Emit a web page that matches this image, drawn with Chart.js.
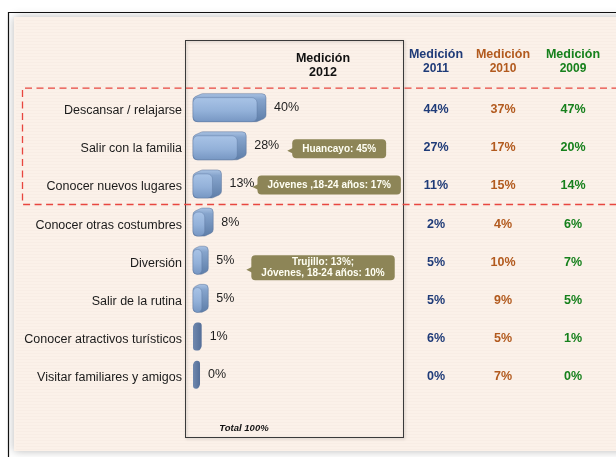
<!DOCTYPE html>
<html lang="es">
<head>
<meta charset="UTF-8">
<title>Motivos de viaje - Medición 2012</title>
<script src="https://cdn.jsdelivr.net/npm/chart.js"></script>
<style>
  html, body { margin: 0; padding: 0; background: #fff; }
  #wrap { width: 616px; height: 457px; }
</style>
</head>
<body>
<div id="wrap"><canvas id="chart" width="616" height="457"></canvas></div>
<script>
// datos
const motivos = [
  "Descansar / relajarse",
  "Salir con la familia",
  "Conocer nuevos lugares",
  "Conocer otras costumbres",
  "Diversión",
  "Salir de la rutina",
  "Conocer atractivos turísticos",
  "Visitar familiares y amigos"
];
const medicion2012 = [40, 28, 13, 8, 5, 5, 1, 0];
const medicion2011 = [44, 27, 11, 2, 5, 5, 6, 0];
const medicion2010 = [37, 17, 15, 4, 10, 9, 5, 7];
const medicion2009 = [47, 20, 14, 6, 7, 5, 1, 0];
const anios = ["2011", "2010", "2009"];
const notas = [
  { fila: 1, texto: ["Huancayo: 45%"] },
  { fila: 2, texto: ["Jóvenes ,18-24 años: 17%"] },
  { fila: 4, texto: ["Trujillo: 13%;", "Jóvenes, 18-24 años: 10%"] }
];
const total = "Total 100%";

// estilos
const FONT = '"Liberation Sans", Arial, sans-serif';
const colsX = [436, 503, 573];
const colsColor = ["#1F3B78", "#B25A1E", "#16801C"];
const notaAjuste = [{ dx: 13, dy: 0 }, { dx: 3, dy: -2 }, { dx: 17, dy: 4.5 }];
const series = [medicion2011, medicion2010, medicion2009];

// polígono con esquinas redondeadas
function poli(c, pts, r) {
  const n = pts.length;
  c.beginPath();
  const m0 = [(pts[n - 1][0] + pts[0][0]) / 2, (pts[n - 1][1] + pts[0][1]) / 2];
  c.moveTo(m0[0], m0[1]);
  for (let i = 0; i < n; i++) {
    const p = pts[i], q = pts[(i + 1) % n];
    c.arcTo(p[0], p[1], q[0], q[1], r);
  }
  c.closePath();
}

function barra3d(c, x0, x1, yc, h) {
  const w = x1 - x0;
  const top = yc - h / 2, bot = yc + h / 2;
  c.save();
  if (w < 12) {
    const d = w * 0.6, s = 4;
    poli(c, [[x0, top + s], [x0 + d * 0.4, top], [x1, top], [x1, bot - s], [x1 - d * 0.4, bot], [x0, bot]], 3);
    const g = c.createLinearGradient(x0, 0, x1, 0);
    g.addColorStop(0, "#7088AE");
    g.addColorStop(1, "#546E98");
    c.fillStyle = g;
    c.fill();
    c.restore();
    return;
  }
  const d = Math.min(9, w * 0.42);
  const s = Math.min(4, d * 0.5);
  // silueta (caras lateral y superior)
  poli(c, [[x0, top + s], [x0 + d, top], [x1, top], [x1, bot - s], [x1 - d, bot], [x0, bot]], 4);
  let g = c.createLinearGradient(0, top, 0, bot);
  g.addColorStop(0, "#A9C2E3");
  g.addColorStop(0.2, "#86A4CC");
  g.addColorStop(1, "#5E7EA9");
  c.fillStyle = g;
  c.fill();
  c.strokeStyle = "rgba(85,110,150,0.6)";
  c.lineWidth = 0.8;
  c.stroke();
  // cara frontal
  const fw = w - d;
  c.beginPath();
  c.roundRect(x0, top + s, fw, h - s, Math.min(5, fw / 2));
  g = c.createLinearGradient(0, top + s, 0, bot);
  g.addColorStop(0, "#A8C3E6");
  g.addColorStop(0.55, "#93B1D9");
  g.addColorStop(1, "#7797C3");
  c.fillStyle = g;
  c.fill();
  c.strokeStyle = "rgba(95,122,162,0.55)";
  c.stroke();
  c.restore();
}

function cajaNota(c, x, yc, lineas) {
  c.save();
  c.font = "bold 10px " + FONT;
  const tw = Math.max(...lineas.map(t => c.measureText(t).width));
  const w = tw + 20;
  const h = lineas.length > 1 ? 25 : 19;
  const top = yc - h / 2;
  c.fillStyle = "#8D8557";
  c.beginPath();
  c.roundRect(x, top, w, h, 4);
  c.fill();
  c.beginPath();
  c.moveTo(x + 1, yc - 1);
  c.lineTo(x - 5, yc + 2);
  c.lineTo(x + 1, yc + 5);
  c.closePath();
  c.fill();
  c.fillStyle = "#FFFFF4";
  c.textAlign = "center";
  c.textBaseline = "middle";
  const lh = 11.6;
  lineas.forEach((t, i) => {
    c.fillText(t, x + w / 2, yc + (i - (lineas.length - 1) / 2) * lh);
  });
  c.restore();
}

const decorado = {
  id: "decorado",
  beforeDraw(chart) {
    const c = chart.ctx;
    c.save();
    c.fillStyle = "#fff";
    c.fillRect(0, 0, 616, 457);
    // panel crema con sombra
    c.shadowColor = "rgba(0,0,0,0.28)";
    c.shadowBlur = 9;
    c.fillStyle = "#FBF1E9";
    c.fillRect(14, 17, 640, 434);
    c.shadowColor = "transparent";
    // rayas tenues
    c.strokeStyle = "rgba(236,222,208,0.18)";
    c.lineWidth = 1;
    for (let y = 20; y < 450; y += 3) {
      c.beginPath();
      c.moveTo(16, y + 0.5);
      c.lineTo(616, y + 0.5);
      c.stroke();
    }
    // marco exterior
    c.strokeStyle = "#111";
    c.lineWidth = 1.2;
    c.beginPath();
    c.moveTo(616, 12.5);
    c.lineTo(8.5, 12.5);
    c.lineTo(8.5, 457);
    c.stroke();
    // caja 2012
    c.shadowColor = "rgba(0,0,0,0.25)";
    c.shadowBlur = 3;
    c.shadowOffsetX = 1;
    c.shadowOffsetY = 1;
    c.strokeStyle = "#3A3A3A";
    c.lineWidth = 1;
    c.strokeRect(185.5, 40.5, 218, 397);
    c.restore();
  },
  afterDatasetsDraw(chart) {
    const c = chart.ctx;
    const meta = chart.getDatasetMeta(0);
    meta.data.forEach(bar => {
      barra3d(c, bar.base, bar.x, bar.y - 3, bar.height);
    });
  },
  afterDraw(chart) {
    const c = chart.ctx;
    const ys = chart.scales.y;
    const meta = chart.getDatasetMeta(0);
    const band = ys.getPixelForValue(1) - ys.getPixelForValue(0);
    c.save();
    // rectángulo discontinuo
    c.strokeStyle = "#E8463F";
    c.lineWidth = 1.3;
    c.setLineDash([7, 4.5]);
    const dTop = ys.getPixelForValue(0) - band / 2 - 3.5;
    const dBot = ys.getPixelForValue(2) + band / 2 - 1.5;
    c.beginPath();
    c.moveTo(630, dTop);
    c.lineTo(22.5, dTop);
    c.lineTo(22.5, dBot);
    c.lineTo(630, dBot);
    c.stroke();
    c.setLineDash([]);

    // encabezados
    c.textAlign = "center";
    c.textBaseline = "middle";
    c.font = "bold 12.5px " + FONT;
    c.fillStyle = "#111";
    c.fillText("Medición", 323, 59);
    c.fillText("2012", 323, 72.5);
    anios.forEach((a, j) => {
      c.fillStyle = colsColor[j];
      c.font = "bold 12.5px " + FONT;
      c.fillText("Medición", colsX[j], 55);
      c.font = "bold 12px " + FONT;
      c.fillText(a, colsX[j], 69);
    });

    // columnas de años anteriores
    c.font = "bold 12.5px " + FONT;
    series.forEach((serie, j) => {
      c.fillStyle = colsColor[j];
      serie.forEach((v, i) => {
        c.fillText(v + "%", colsX[j], ys.getPixelForValue(i) - 1);
      });
    });

    // notas
    const finEtiqueta = [];
    c.font = "12.5px " + FONT;
    meta.data.forEach((bar, i) => {
      finEtiqueta[i] = bar.x + 8 + c.measureText(medicion2012[i] + "%").width;
    });
    notas.forEach((n, k) => {
      cajaNota(c, finEtiqueta[n.fila] + notaAjuste[k].dx,
        ys.getPixelForValue(n.fila) + notaAjuste[k].dy, n.texto);
    });

    // etiquetas de valor 2012
    c.font = "12.5px " + FONT;
    c.fillStyle = "#1E1E1E";
    c.textAlign = "left";
    meta.data.forEach((bar, i) => {
      c.fillText(medicion2012[i] + "%", bar.x + 8, bar.y - 3);
    });

    // total
    c.textAlign = "center";
    c.font = "italic bold 9.5px " + FONT;
    c.fillStyle = "#111";
    c.fillText(total, 244, 428);
    c.restore();
  }
};

new Chart(document.getElementById("chart"), {
  type: "bar",
  data: {
    labels: motivos,
    datasets: [{
      label: "Medición 2012",
      data: medicion2012,
      base: -4.25,
      backgroundColor: "rgba(0,0,0,0)",
      borderWidth: 0,
      barThickness: 28
    }]
  },
  options: {
    indexAxis: "y",
    responsive: false,
    animation: false,
    devicePixelRatio: 1,
    layout: { padding: { left: 0, right: 251, top: 91.6, bottom: 60.3 } },
    scales: {
      x: { display: false, min: -4.25, max: 100 },
      y: {
        grid: { display: false, drawTicks: false },
        border: { display: false },
        ticks: {
          padding: 11,
          color: "#1B1B1B",
          font: { family: FONT, size: 12.5 }
        },
        afterFit(s) { s.width = 193; }
      }
    },
    plugins: {
      legend: { display: false },
      tooltip: { enabled: false }
    }
  },
  plugins: [decorado]
});
</script>
</body>
</html>
